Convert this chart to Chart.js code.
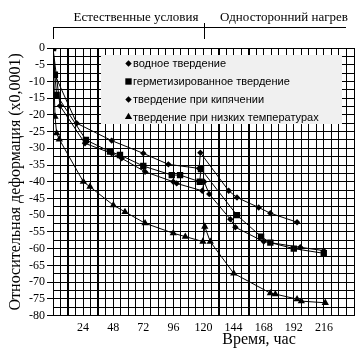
<!DOCTYPE html>
<html><head><meta charset="utf-8">
<script src="https://cdn.jsdelivr.net/npm/chart.js@4/dist/chart.umd.min.js"></script>
<style>html,body{margin:0;padding:0;background:#fff}canvas{display:block}</style>
</head><body>
<canvas id="c" width="364" height="355"></canvas>
<script>
// ---- data ----
const seriesNames = ["водное твердение", "герметизированное твердение", "твердение при кипячении", "твердение при низких температурах"];
const waterHours   = [0, 1.5, 18.9, 46.8, 72, 92, 116.5, 117.5, 140.1, 146.7, 164, 173.3, 194.6];
const waterStrain  = [0, -8, -22.5, -27.7, -31.5, -34.8, -36, -31.3, -42.7, -44.7, -47.7, -49.4, -52.1];
const sealedHours  = [0, 1.5, 2.9, 26.3, 45.5, 53.4, 72, 94.7, 101.3, 117, 118, 146.7, 165.9, 173.3, 192, 215.9];
const sealedStrain = [0, -8, -14, -27.5, -31, -32, -35.3, -38, -38, -40, -36.2, -50, -56.4, -58.2, -60, -61.4];
const boilHours    = [0, 5.6, 25.5, 46.8, 54.8, 73.4, 95.9, 98.6, 119, 120.5, 124.6, 141.4, 145.4, 168, 197.2, 215.9];
const boilStrain   = [0, -17.3, -28.5, -31.5, -33, -37, -40, -40.5, -42.7, -40, -43.7, -51.2, -53.6, -57.9, -59.6, -60.6];
const coldHours    = [0, 1.6, 2.9, 5, 24.2, 29.5, 48.1, 57.4, 73.4, 95.9, 105.5, 119.5, 121, 125.4, 144.1, 173.3, 177.3, 194.6, 198, 217.1];
const coldStrain   = [0, -20.5, -25.5, -27.3, -40, -41.5, -47, -49, -52.4, -55.4, -56.4, -57.9, -53.4, -57.9, -67.4, -73.3, -73.6, -75.1, -75.7, -76.2];
const xTickLabels  = [24, 48, 72, 96, 120, 144, 168, 192, 216];
const periodNames  = ["Естественные условия", "Односторонний нагрев"];
const periodSplit  = 120;
const xTitle = "Время, час";
const yTitle = "Относительная деформация (x0,0001)";

const SERIF = '"Liberation Serif","Times New Roman",serif';
const SANS = '"Liberation Sans",Arial,sans-serif';
const thickLines = [12, 36, 132, 156];

function pts(xs, ys){ return xs.map((x,i)=>({x:x, y:ys[i]})); }
const styles = [
  {pointStyle:'rectRot', radius:3.2},
  {pointStyle:'rect', radius:4.5},
  {pointStyle:'rectRot', radius:3.2},
  {pointStyle:'triangle', radius:4.2}
];
const allData = [pts(waterHours,waterStrain), pts(sealedHours,sealedStrain), pts(boilHours,boilStrain), pts(coldHours,coldStrain)];
const datasets = allData.map((d,i)=>({
  label: seriesNames[i], data: d, showLine:true, borderColor:'#000', borderWidth:1,
  backgroundColor:'#000', pointBackgroundColor:'#000', pointBorderColor:'#000', pointBorderWidth:0,
  pointStyle: styles[i].pointStyle, pointRadius: styles[i].radius, tension:0
}));

function marker(ctx, style, x, y, r){
  ctx.beginPath();
  if(style==='rectRot'){ ctx.moveTo(x,y-r);ctx.lineTo(x+r,y);ctx.lineTo(x,y+r);ctx.lineTo(x-r,y); }
  else if(style==='rect'){ const s=r*Math.SQRT1_2; ctx.rect(x-s,y-s,2*s,2*s); }
  else { ctx.moveTo(x,y-r); ctx.lineTo(x+r*0.866,y+r*0.5); ctx.lineTo(x-r*0.866,y+r*0.5); }
  ctx.closePath(); ctx.fill();
}

const deco = {
  id:'deco',
  afterDraw(chart){
    const ctx = chart.ctx, xs = chart.scales.x, area = chart.chartArea;
    ctx.save();
    // period annotation
    const xs0 = xs.getPixelForValue(0), xsp = xs.getPixelForValue(periodSplit);
    ctx.strokeStyle='#000'; ctx.lineWidth=1;
    ctx.beginPath();
    ctx.moveTo(xs0, 27.5); ctx.lineTo(346, 27.5);
    ctx.moveTo(xs0+0.5, 27); ctx.lineTo(xs0+0.5, 39);
    ctx.moveTo(Math.round(xsp)+0.5, 23); ctx.lineTo(Math.round(xsp)+0.5, 39);
    ctx.stroke();
    ctx.fillStyle='#000'; ctx.font='13px '+SERIF; ctx.textBaseline='alphabetic'; ctx.textAlign='center';
    ctx.fillText(periodNames[0], 136, 21);
    ctx.fillText(periodNames[1], 284, 21);
    // axis titles
    ctx.font='16px '+SERIF;
    ctx.fillText(xTitle, 259, 344);
    ctx.save(); ctx.translate(20, (area.top+area.bottom)/2); ctx.rotate(-Math.PI/2);
    ctx.textBaseline='alphabetic'; ctx.fillText(yTitle, 0, 0); ctx.restore();
    // legend
    ctx.fillStyle='#f0f0f0'; ctx.fillRect(101, 55, 241, 69);
    const rowsY=[63.5, 81.5, 99.5, 117];
    ctx.font='11px '+SANS; ctx.textAlign='left'; ctx.textBaseline='middle';
    rowsY.forEach((ry,i)=>{
      ctx.fillStyle='#000';
      marker(ctx, styles[i].pointStyle, 128.5, ry, styles[i].radius);
      ctx.fillText(seriesNames[i], 133, ry+0.5);
    });
    ctx.restore();
  }
};

new Chart(document.getElementById('c'), {
  type:'scatter',
  data:{datasets},
  options:{
    responsive:false, animation:false, devicePixelRatio:1,
    layout:{padding:{top:48, right:10, left:0, bottom:0}},
    plugins:{legend:{display:false}, tooltip:{enabled:false}},
    scales:{
      x:{
        type:'linear', min:0, max:240,
        afterFit(s){ s.height = 39.5; },
        border:{display:true, color:'#000', width:1},
        grid:{color:'#000', lineWidth:(c)=> (c.tick && thickLines.includes(c.tick.value)) ? 2 : 1, drawTicks:true, tickLength:3, tickColor:'rgba(0,0,0,0)'},
        ticks:{stepSize:6, maxTicksLimit:100, autoSkip:false, maxRotation:0, minRotation:0, padding:2,
          color:'#000', font:{family:SERIF, size:12},
          callback:(v)=> xTickLabels.includes(v) ? String(v) : ''}
      },
      y:{
        type:'linear', min:-80, max:0,
        afterFit(s){ s.width = 53; },
        border:{display:true, color:'#000', width:1},
        grid:{color:'#000', lineWidth:1, drawTicks:true, tickLength:6,
          tickColor:(c)=> (c.tick && c.tick.value%5===0) ? '#000' : 'rgba(0,0,0,0)'},
        ticks:{stepSize:2.5, maxTicksLimit:100, autoSkip:false, padding:2, color:'#000',
          font:{family:SERIF, size:12},
          callback:(v)=> (v%5===0) ? String(v) : ''}
      }
    }
  },
  plugins:[deco]
});
</script>
</body></html>
